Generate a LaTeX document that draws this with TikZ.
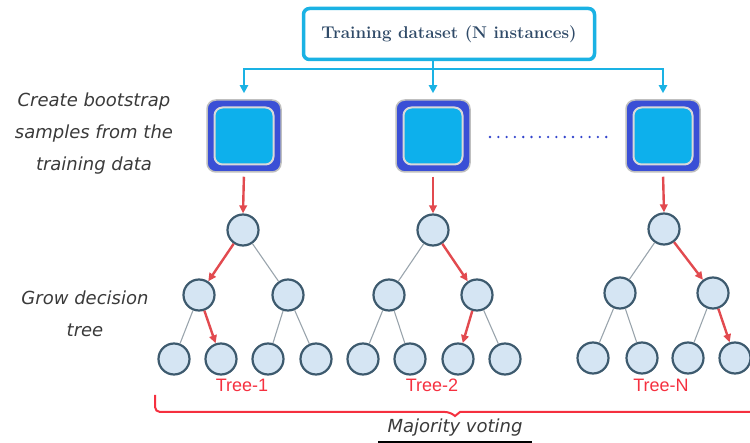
\documentclass[tikz,border=0pt]{standalone}
\usepackage{fontspec}
\newfontfamily\handfont{DejaVu Sans}
\newfontfamily\labfont{Liberation Sans}
\usetikzlibrary{arrows.meta,shadows,calc}
\definecolor{cyanborder}{HTML}{1AB2E4}
\definecolor{titlecol}{HTML}{2F4A68}
\definecolor{darkband}{HTML}{3A4FD6}
\definecolor{cyanfill}{HTML}{0DB0EC}
\definecolor{circfill}{HTML}{D5E5F3}
\definecolor{circdraw}{HTML}{3D5A6E}
\definecolor{grayedge}{HTML}{9AA5AD}
\definecolor{rededge}{HTML}{E24A4F}
\definecolor{bracered}{HTML}{F5303F}
\definecolor{handgray}{HTML}{3A3A3A}
\definecolor{dotblue}{HTML}{3344CC}
\tikzset{
  titlebox/.style={draw=cyanborder, line width=3.5pt, rounded corners=6pt, fill=white,
    minimum width=291pt, minimum height=51pt, text=titlecol,
    font=\bfseries\fontsize{17}{20}\selectfont,
    drop shadow={opacity=0.25, shadow xshift=1.5pt, shadow yshift=-1.5pt}},
  sqout/.style={draw=black!25, line width=1.5pt, fill=darkband, rounded corners=9pt,
    minimum width=74pt, minimum height=72pt, inner sep=0pt},
  sqin/.style={draw=black!15, line width=2pt, fill=cyanfill, rounded corners=8pt,
    minimum width=59pt, minimum height=57pt, inner sep=0pt},
  bluearrow/.style={draw=cyanborder, line width=2pt, -{Triangle[length=8pt,width=8pt]}},
  blueline/.style={draw=cyanborder, line width=2pt},
  redarrow/.style={draw=rededge, line width=2.4pt, -{Triangle[length=8pt,width=7.5pt]}},
  tnode/.style={circle, draw=circdraw, fill=circfill, line width=2.2pt, minimum size=31pt, inner sep=0pt},
  gedge/.style={draw=grayedge, line width=1.1pt},
  redge/.style={draw=rededge, line width=2.4pt, -{Triangle[length=8pt,width=7.5pt]}},
  treelab/.style={text=bracered, font=\labfont\fontsize{18}{20}\selectfont},
  hand/.style={text=handgray, font=\handfont\itshape\fontsize{18}{32}\selectfont, align=center},
  bracepath/.style={draw=bracered, line width=2pt},
  dotline/.style={draw=dotblue, line width=2.6pt, line cap=round, dash pattern=on 0pt off 8.3pt}
}
\begin{document}
\begin{tikzpicture}[x=1pt,y=-1pt]
\useasboundingbox (0,0) rectangle (750,443);

% title
\node[titlebox] (top) at (449,34) {Training dataset (N instances)};
\coordinate (split) at (433,69);
\draw[blueline] (top.south -| split) -- (split);

% bootstrap boxes
\node[sqout] (b1) at (244,136) {};
\node[sqin] (b1in) at (b1) {};
\node[sqout] (b2) at (433,136) {};
\node[sqin] (b2in) at (b2) {};
\node[sqout] (b3) at (663,136) {};
\node[sqin] (b3in) at (b3) {};

\draw[bluearrow, shorten >=6pt] (split) -- (b2.north);
\draw[bluearrow, shorten >=6pt] (split) -| (b1.north);
\draw[bluearrow, shorten >=6pt] (split) -| (b3.north);

% dotted separator
\coordinate (d1) at (490,137);
\coordinate (d2) at (608,137);
\draw[dotline] (d1) -- (d2);

% tree 1
\node[tnode] (t1r) at (243,230) {};
\node[tnode] (t1a) at (199,295) {};
\node[tnode] (t1b) at (288,295) {};
\node[tnode] (t1c) at (174,359) {};
\node[tnode] (t1d) at (221,359) {};
\node[tnode] (t1e) at (268,359) {};
\node[tnode] (t1f) at (316,359) {};
\draw[redarrow, shorten <=4pt] (b1.south) -- (t1r.north);
\draw[redge] (t1r) -- (t1a);
\draw[gedge] (t1r) -- (t1b);
\draw[gedge] (t1a) -- (t1c);
\draw[redge] (t1a) -- (t1d);
\draw[gedge] (t1b) -- (t1e);
\draw[gedge] (t1b) -- (t1f);

% tree 2
\node[tnode] (t2r) at (433,230) {};
\node[tnode] (t2a) at (389,295) {};
\node[tnode] (t2b) at (477,295) {};
\node[tnode] (t2c) at (363,359) {};
\node[tnode] (t2d) at (410,359) {};
\node[tnode] (t2e) at (458,359) {};
\node[tnode] (t2f) at (505,359) {};
\draw[redarrow, shorten <=4pt] (b2.south) -- (t2r.north);
\draw[gedge] (t2r) -- (t2a);
\draw[redge] (t2r) -- (t2b);
\draw[gedge] (t2a) -- (t2c);
\draw[gedge] (t2a) -- (t2d);
\draw[redge] (t2b) -- (t2e);
\draw[gedge] (t2b) -- (t2f);

% tree N
\node[tnode] (t3r) at (664,229) {};
\node[tnode] (t3a) at (620,293) {};
\node[tnode] (t3b) at (713,293) {};
\node[tnode] (t3c) at (593,358) {};
\node[tnode] (t3d) at (642,358) {};
\node[tnode] (t3e) at (688,358) {};
\node[tnode] (t3f) at (735,358) {};
\draw[redarrow, shorten <=4pt] (b3.south) -- (t3r.north);
\draw[gedge] (t3r) -- (t3a);
\draw[redge] (t3r) -- (t3b);
\draw[gedge] (t3a) -- (t3c);
\draw[gedge] (t3a) -- (t3d);
\draw[gedge] (t3b) -- (t3e);
\draw[redge] (t3b) -- (t3f);

% tree labels
\node[treelab] (l1) at (242,385) {Tree-1};
\node[treelab] (l2) at (432,385) {Tree-2};
\node[treelab] (l3) at (661,385) {Tree-N};

% brace
\coordinate (bl) at (155,395);
\coordinate (bm1) at (450,412);
\coordinate (bm) at (455,416);
\coordinate (bm2) at (460,412);
\coordinate (br) at (750,412);
\draw[bracepath] (bl) [rounded corners=5pt] |- (bm1) [sharp corners] -- (bm) -- (bm2) -- (br);

\node[hand] (mv) at (455,428) {Majority voting};
\coordinate (u1) at (378,442);
\coordinate (u2) at (532,442);
\draw[black, line width=2.5pt] (u1) -- (u2);

% left labels
\node[hand] (lab1) at (94,134) {Create bootstrap\\samples from the\\training data};
\node[hand] (lab2) at (85,314) {Grow decision\\tree};
\end{tikzpicture}
\end{document}
